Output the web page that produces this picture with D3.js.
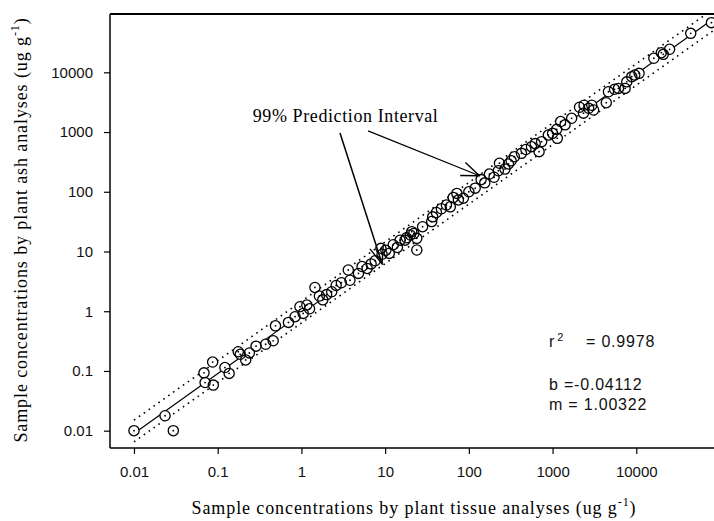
<!DOCTYPE html>
<html>
<head>
<meta charset="utf-8">
<script src="https://cdn.jsdelivr.net/npm/d3@7"></script>
<style>
  body { margin: 0; background: #fff; }
  svg { display: block; }
</style>
</head>
<body>
<svg id="chart" width="714" height="521"></svg>
<script>
// ---------- data ----------
const tissue = [0.01, 0.0235, 0.0295, 0.0686, 0.0707, 0.0886, 0.087, 0.122, 0.137, 0.176,
  0.186, 0.216, 0.239, 0.287, 0.374, 0.46, 0.49, 0.7, 0.84, 0.96,
  1.05, 1.16, 1.45, 1.64, 1.8, 2.3, 3.0, 3.63, 3.8, 4.8,
  6.1, 7.6, 8.9, 9.2, 11.2, 14, 15.1, 17.3, 20, 20.8,
  23.9, 23.9, 36, 37, 47, 60, 72, 75, 86, 119,
  155, 176, 225, 232, 297, 350, 425, 560, 690, 740,
  890, 1120, 1140, 1410, 1690, 2340, 2380, 2940, 3090, 4380,
  4650, 6120, 7350, 7700, 8830, 10800, 16200, 19900, 25000, 44700, 79000,
  1.25, 2.0, 2.6, 5.3, 6.8, 10.2, 12.5, 18, 22, 28,
  41, 54, 65, 100, 140, 200, 270, 320, 480, 620,
  1000, 1250, 2100, 2700, 5500, 9600, 21000];
const ash = [0.01, 0.0178, 0.01, 0.093, 0.064, 0.058, 0.141, 0.114, 0.091, 0.21,
  0.19, 0.153, 0.2, 0.26, 0.28, 0.32, 0.57, 0.65, 0.81, 1.19,
  0.92, 1.27, 2.5, 1.8, 1.55, 2.12, 3.0, 4.9, 3.3, 4.3,
  5.2, 7.0, 11.3, 9.0, 9.3, 11.7, 15.5, 15.5, 18.9, 21.5,
  16.6, 10.6, 31.7, 38, 52, 56, 94, 73, 78, 115,
  141, 198, 225, 300, 292, 386, 440, 570, 470, 690,
  890, 1110, 785, 1320, 1700, 2070, 2810, 2810, 2340, 3100,
  4730, 5380, 5380, 6930, 8450, 9600, 17200, 21300, 24300, 44900, 67900,
  1.1, 1.9, 2.7, 5.6, 6.2, 10.5, 13, 17, 20, 26,
  45, 60, 80, 100, 160, 175, 240, 330, 510, 640,
  950, 1500, 2600, 2500, 5200, 9000, 20000];

// regression (log10 space): log y = b + m log x
const intercept = -0.04112;
const slope = 1.00322;
const r2 = 0.9978;
const fitRange = [0.01, 79000];

// 99% prediction interval lines [tissue, ash]
const upperPI = [[0.01, 0.015], [66000, 91000]];
const lowerPI = [[0.01, 0.0065], [100000, 60000]];

const tickVals = [0.01, 0.1, 1, 10, 100, 1000, 10000];
const tickLabels = ["0.01", "0.1", "1", "10", "100", "1000", "10000"];
const xExtent = [0.00517, 100000];
const yExtent = [0.00513, 94700];

// annotation anchors in data units
const annoText = "99% Prediction Interval";
const annoPos = [0.262, 1490];
const arrows = [
  {from: [2.89, 966], to: [9.2, 6.2], w: 1.5},
  {from: [6.25, 1047], to: [134, 185], w: 1.2}
];

// ---------- layout ----------
const svg = d3.select("#chart");
const L = 110, R = 720, T = 14, B = 448;

const x = d3.scaleLog().domain(xExtent).range([L, R]);
const y = d3.scaleLog().domain(yExtent).range([B, T]);

const defs = svg.append("defs");
defs.append("clipPath").attr("id", "clip")
  .append("rect").attr("x", L).attr("y", T).attr("width", R - L).attr("height", B - T);
defs.append("marker").attr("id", "arrow")
  .attr("viewBox", "0 0 20 20").attr("refX", 19).attr("refY", 10)
  .attr("markerWidth", 20).attr("markerHeight", 20).attr("markerUnits", "userSpaceOnUse")
  .attr("orient", "auto")
  .append("path").attr("d", "M1,3 L19,10 L1,17").attr("fill", "none")
  .attr("stroke", "#000").attr("stroke-width", 1.4);

// axes
const fmt = d => tickLabels[tickVals.indexOf(d)];
const yAxis = svg.append("g").attr("transform", `translate(${L},0)`)
  .call(d3.axisLeft(y).tickValues(tickVals).tickFormat(fmt).tickSize(6).tickPadding(11));
const xAxis = svg.append("g").attr("transform", `translate(0,${B})`)
  .call(d3.axisBottom(x).tickValues(tickVals).tickFormat(fmt).tickSize(6).tickPadding(12));
[xAxis, yAxis].forEach(g => {
  g.select(".domain").remove();
  g.selectAll("line").attr("stroke", "#000").attr("stroke-width", 1.2);
  g.selectAll("text").attr("font-family", "Liberation Sans, Arial, sans-serif")
    .attr("font-size", 15).attr("fill", "#111");
});

// frame
svg.append("line").attr("x1", L).attr("x2", R).attr("y1", T).attr("y2", T)
  .attr("stroke", "#000").attr("stroke-width", 2);
svg.append("line").attr("x1", L).attr("x2", L).attr("y1", T).attr("y2", B)
  .attr("stroke", "#000").attr("stroke-width", 1.5);
svg.append("line").attr("x1", L).attr("x2", R).attr("y1", B).attr("y2", B)
  .attr("stroke", "#000").attr("stroke-width", 1.6);

const plot = svg.append("g").attr("clip-path", "url(#clip)");

// prediction interval lines
const ln = d3.line().x(d => x(d[0])).y(d => y(d[1]));
[upperPI, lowerPI].forEach(p => {
  plot.append("path").attr("d", ln(p)).attr("fill", "none")
    .attr("stroke", "#000").attr("stroke-width", 1.6)
    .attr("stroke-dasharray", "1.6,4.4");
});

// regression line
const fitPts = fitRange.map(v => [v, Math.pow(10, intercept + slope * Math.log10(v))]);
plot.append("path").attr("d", ln(fitPts)).attr("fill", "none")
  .attr("stroke", "#000").attr("stroke-width", 1.2);

// points
const pts = tissue.map((t, i) => [t, ash[i]]);
const rr = 5.1;
plot.selectAll("circle.bg").data(pts).join("circle").attr("class", "bg")
  .attr("cx", d => x(d[0])).attr("cy", d => y(d[1])).attr("r", rr).attr("fill", "#fff");
plot.selectAll("circle.ring").data(pts).join("circle").attr("class", "ring")
  .attr("cx", d => x(d[0])).attr("cy", d => y(d[1])).attr("r", rr)
  .attr("fill", "none").attr("stroke", "#000").attr("stroke-width", 1.3);
plot.selectAll("circle.dot").data(pts).join("circle").attr("class", "dot")
  .attr("cx", d => x(d[0])).attr("cy", d => y(d[1])).attr("r", 0.9).attr("fill", "#000");

// annotation
svg.append("text").attr("x", x(annoPos[0])).attr("y", y(annoPos[1]))
  .attr("font-family", "Liberation Serif, Times New Roman, serif").attr("font-size", 18)
  .attr("letter-spacing", 0.6).attr("fill", "#000").text(annoText);
arrows.forEach(a => {
  svg.append("line")
    .attr("x1", x(a.from[0])).attr("y1", y(a.from[1]))
    .attr("x2", x(a.to[0])).attr("y2", y(a.to[1]))
    .attr("stroke", "#000").attr("stroke-width", a.w).attr("marker-end", "url(#arrow)");
});

// stats text
const statFont = "Liberation Sans, Arial, sans-serif";
const st = svg.append("g").attr("font-family", statFont).attr("font-size", 16)
  .attr("fill", "#111").attr("letter-spacing", 0.8);
const r2t = st.append("text").attr("x", 549).attr("y", 347);
r2t.append("tspan").text("r");
r2t.append("tspan").attr("font-size", 11).attr("dy", -6).attr("dx", 2).text("2");
st.append("text").attr("x", 586).attr("y", 347).text("= " + r2.toFixed(4));
st.append("text").attr("x", 549).attr("y", 390).text("b =" + intercept.toFixed(5));
st.append("text").attr("x", 549).attr("y", 410).text("m = " + slope.toFixed(5));

// axis titles
const serif = "Liberation Serif, Times New Roman, serif";
const xt = svg.append("text").attr("x", 414).attr("y", 514).attr("text-anchor", "middle")
  .attr("font-family", serif).attr("font-size", 18).attr("letter-spacing", 0.9).attr("fill", "#000");
xt.append("tspan").text("Sample concentrations by plant tissue analyses (ug g");
xt.append("tspan").attr("font-size", 12).attr("dy", -8).text("-1");
xt.append("tspan").attr("dy", 8).text(")");

const yt = svg.append("text").attr("transform", "translate(27,230) rotate(-90)")
  .attr("text-anchor", "middle").attr("font-family", serif).attr("font-size", 18)
  .attr("letter-spacing", 0.9).attr("fill", "#000");
yt.append("tspan").text("Sample concentrations by plant ash analyses (ug g");
yt.append("tspan").attr("font-size", 12).attr("dy", -8).text("-1");
yt.append("tspan").attr("dy", 8).text(")");
</script>
</body>
</html>
